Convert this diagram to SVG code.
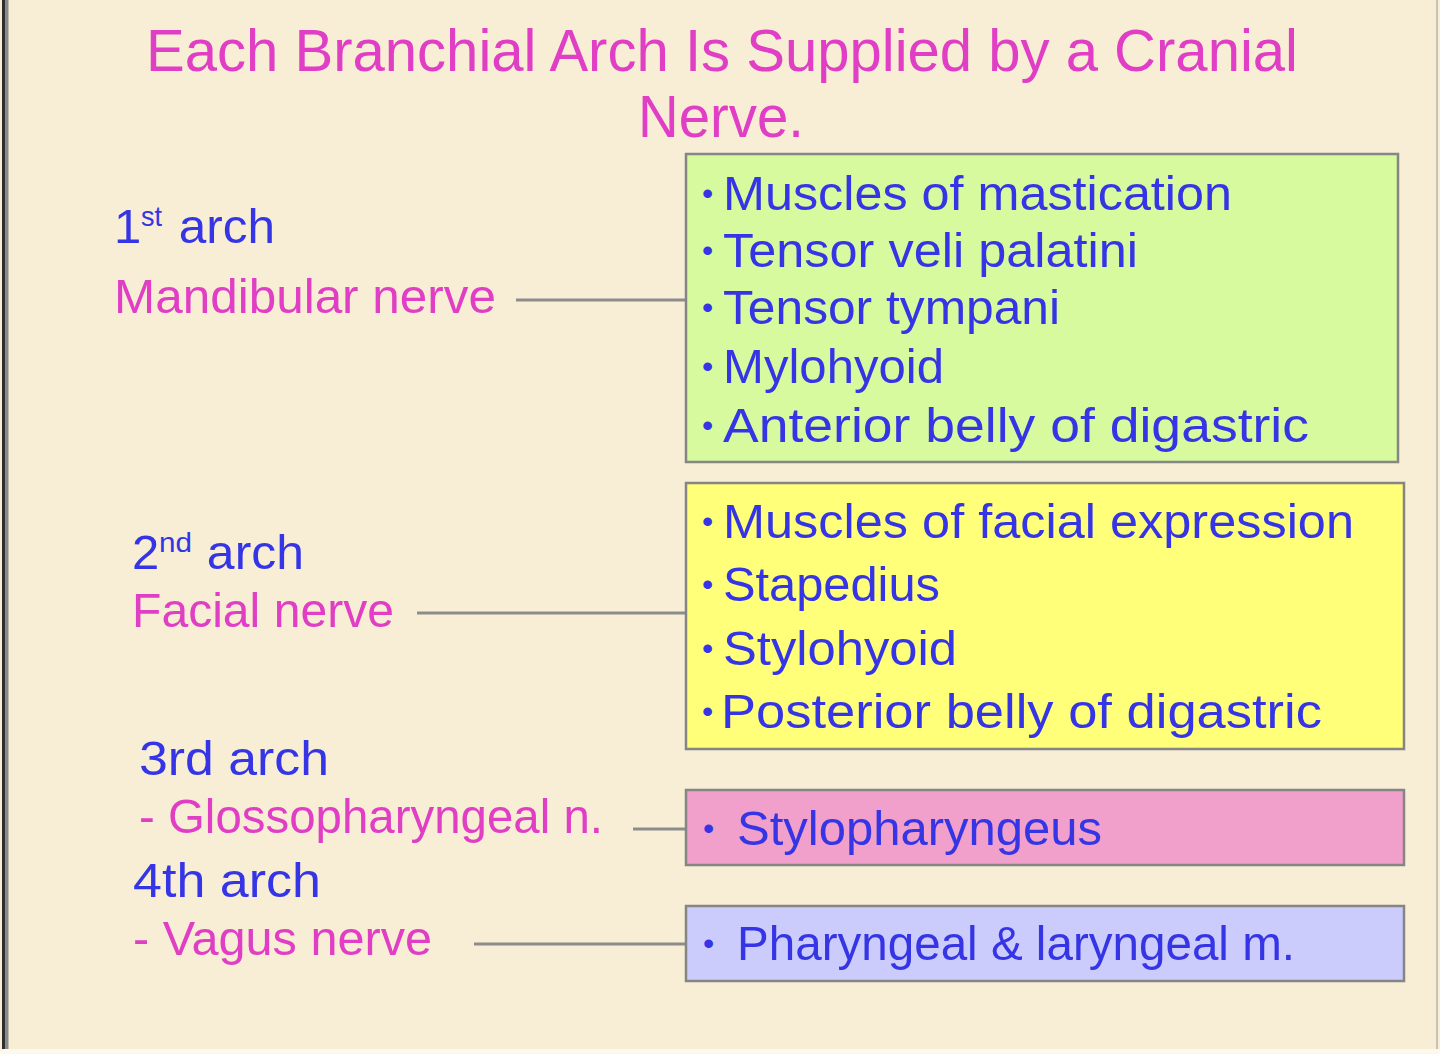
<svg xmlns="http://www.w3.org/2000/svg" width="1440" height="1054" viewBox="0 0 1440 1054">
<style>
text{font-family:"Liberation Sans","Noto Sans",Arial,sans-serif;}
.title{fill:#E03EC4;font-size:59px;}
.blue{fill:#3535E6;font-size:49px;}
.pink{fill:#E03EC4;font-size:49px;}
.sup{font-size:28px;}
.bul{font-size:32px;}
.box{stroke:#858585;stroke-width:2.5;}
.conn{stroke:#8C8C8C;stroke-width:3;fill:none;}
</style>
<rect x="0" y="0" width="1440" height="1054" fill="#F8EED6"/>
<rect x="0" y="1049" width="1440" height="5" fill="#FCF8EC"/>
<rect x="2" y="0" width="3.5" height="1049" fill="#2E2E2E"/>
<rect x="5.5" y="0" width="3" height="1049" fill="#8A8A8A"/>
<rect x="1436" y="0" width="2" height="1049" fill="#C9C3B5"/>

<g id="title">
<text class="title" x="722" y="71" text-anchor="middle" textLength="1152" lengthAdjust="spacingAndGlyphs">Each Branchial Arch Is Supplied by a Cranial</text>
<text class="title" x="721" y="137" text-anchor="middle" textLength="166" lengthAdjust="spacingAndGlyphs">Nerve.</text>
</g>

<g id="connectors">
<line class="conn" x1="516" y1="300" x2="686" y2="300"/>
<line class="conn" x1="417" y1="613" x2="686" y2="613"/>
<line class="conn" x1="633" y1="829" x2="686" y2="829"/>
<line class="conn" x1="474" y1="944" x2="686" y2="944"/>
</g>

<g id="arch1">
<text class="blue" y="243"><tspan x="114">1</tspan><tspan class="sup" x="141" y="226" textLength="21" lengthAdjust="spacingAndGlyphs">st</tspan><tspan x="165" y="243" textLength="110" lengthAdjust="spacingAndGlyphs"> arch</tspan></text>
<text class="pink" x="114" y="313" textLength="382" lengthAdjust="spacingAndGlyphs">Mandibular nerve</text>
</g>

<g id="arch2">
<text class="blue" y="569"><tspan x="132">2</tspan><tspan class="sup" x="159" y="552" textLength="33" lengthAdjust="spacingAndGlyphs">nd</tspan><tspan x="193" y="569" textLength="111" lengthAdjust="spacingAndGlyphs"> arch</tspan></text>
<text class="pink" x="132" y="627" textLength="262" lengthAdjust="spacingAndGlyphs">Facial nerve</text>
</g>

<g id="arch3">
<text class="blue" x="139" y="775" textLength="190" lengthAdjust="spacingAndGlyphs">3rd arch</text>
<text class="pink" x="139" y="833" textLength="464" lengthAdjust="spacingAndGlyphs">- Glossopharyngeal n.</text>
</g>

<g id="arch4">
<text class="blue" x="133" y="897" textLength="188" lengthAdjust="spacingAndGlyphs">4th arch</text>
<text class="pink" x="133" y="955" textLength="299" lengthAdjust="spacingAndGlyphs">- Vagus nerve</text>
</g>

<g id="box1">
<rect class="box" x="686" y="154" width="712" height="308" fill="#D8FA9E"/>
<text class="blue"><tspan class="bul" x="702" y="204">•</tspan><tspan x="723" y="210" textLength="509" lengthAdjust="spacingAndGlyphs">Muscles of mastication</tspan></text>
<text class="blue"><tspan class="bul" x="702" y="261">•</tspan><tspan x="723" y="267" textLength="415" lengthAdjust="spacingAndGlyphs">Tensor veli palatini</tspan></text>
<text class="blue"><tspan class="bul" x="702" y="318">•</tspan><tspan x="723" y="324" textLength="337" lengthAdjust="spacingAndGlyphs">Tensor tympani</tspan></text>
<text class="blue"><tspan class="bul" x="702" y="377">•</tspan><tspan x="723" y="383" textLength="221" lengthAdjust="spacingAndGlyphs">Mylohyoid</tspan></text>
<text class="blue"><tspan class="bul" x="702" y="436">•</tspan><tspan x="723" y="442" textLength="586" lengthAdjust="spacingAndGlyphs">Anterior belly of digastric</tspan></text>
</g>

<g id="box2">
<rect class="box" x="686" y="483" width="718" height="266" fill="#FFFF7A"/>
<text class="blue"><tspan class="bul" x="702" y="532">•</tspan><tspan x="723" y="538" textLength="631" lengthAdjust="spacingAndGlyphs">Muscles of facial expression</tspan></text>
<text class="blue"><tspan class="bul" x="702" y="595">•</tspan><tspan x="723" y="601" textLength="217" lengthAdjust="spacingAndGlyphs">Stapedius</tspan></text>
<text class="blue"><tspan class="bul" x="702" y="659">•</tspan><tspan x="723" y="665" textLength="234" lengthAdjust="spacingAndGlyphs">Stylohyoid</tspan></text>
<text class="blue"><tspan class="bul" x="702" y="722">•</tspan><tspan x="721" y="728" textLength="601" lengthAdjust="spacingAndGlyphs">Posterior belly of digastric</tspan></text>
</g>

<g id="box3">
<rect class="box" x="686" y="790" width="718" height="75" fill="#F0A0CB"/>
<text class="blue"><tspan class="bul" x="703" y="839">• </tspan><tspan x="737" y="845" textLength="365" lengthAdjust="spacingAndGlyphs">Stylopharyngeus</tspan></text>
</g>

<g id="box4">
<rect class="box" x="686" y="906" width="718" height="75" fill="#CCCCFC"/>
<text class="blue"><tspan class="bul" x="703" y="954">• </tspan><tspan x="737" y="960" textLength="558" lengthAdjust="spacingAndGlyphs">Pharyngeal &amp; laryngeal m.</tspan></text>
</g>
</svg>
